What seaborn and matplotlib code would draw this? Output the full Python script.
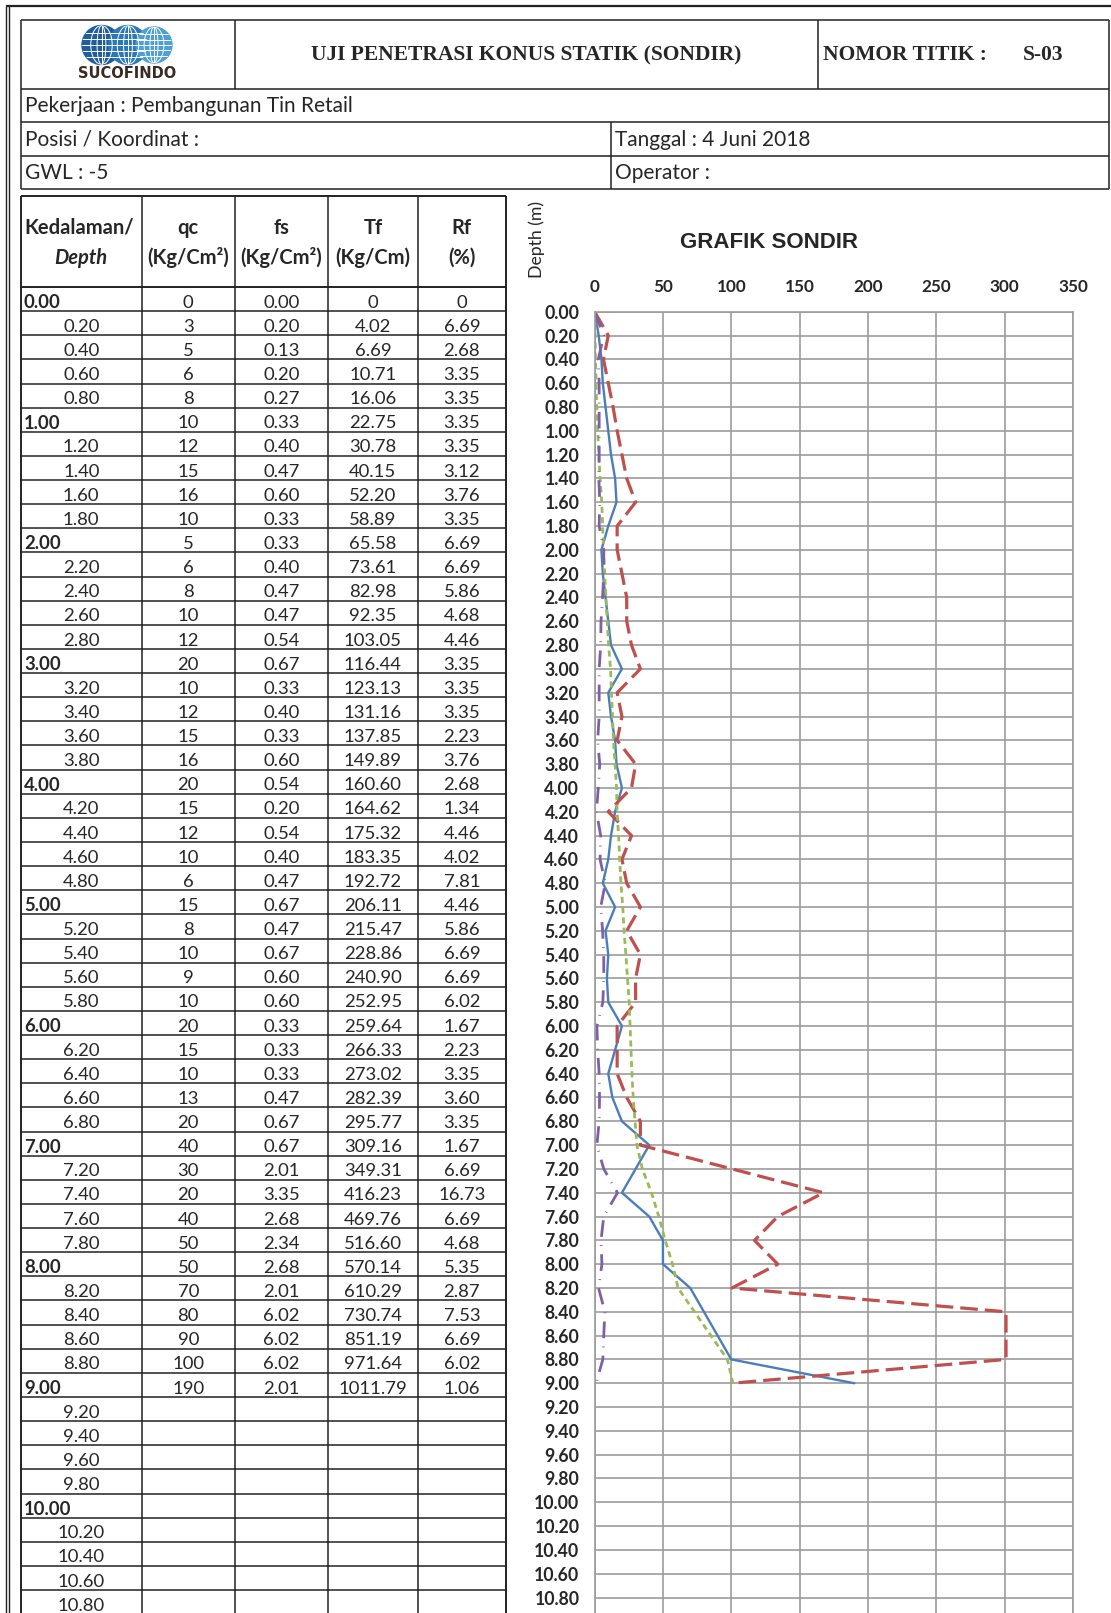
import matplotlib
matplotlib.use("Agg")
import matplotlib.pyplot as plt
from matplotlib.patches import Circle, Ellipse
import numpy as np
import pandas as pd
import seaborn as sns

# ---- data read from the sondir sheet (S-03) ----
depth = [0.00, 0.20, 0.40, 0.60, 0.80, 1.00, 1.20, 1.40, 1.60, 1.80,
         2.00, 2.20, 2.40, 2.60, 2.80, 3.00, 3.20, 3.40, 3.60, 3.80,
         4.00, 4.20, 4.40, 4.60, 4.80, 5.00, 5.20, 5.40, 5.60, 5.80,
         6.00, 6.20, 6.40, 6.60, 6.80, 7.00, 7.20, 7.40, 7.60, 7.80,
         8.00, 8.20, 8.40, 8.60, 8.80, 9.00]
qc = [0, 3, 5, 6, 8, 10, 12, 15, 16, 10,
      5, 6, 8, 10, 12, 20, 10, 12, 15, 16,
      20, 15, 12, 10, 6, 15, 8, 10, 9, 10,
      20, 15, 10, 13, 20, 40, 30, 20, 40, 50,
      50, 70, 80, 90, 100, 190]
fs = [0.00, 0.20, 0.13, 0.20, 0.27, 0.33, 0.40, 0.47, 0.60, 0.33,
      0.33, 0.40, 0.47, 0.47, 0.54, 0.67, 0.33, 0.40, 0.33, 0.60,
      0.54, 0.20, 0.54, 0.40, 0.47, 0.67, 0.47, 0.67, 0.60, 0.60,
      0.33, 0.33, 0.33, 0.47, 0.67, 0.67, 2.01, 3.35, 2.68, 2.34,
      2.68, 2.01, 6.02, 6.02, 6.02, 2.01]
tf = [0, 4.02, 6.69, 10.71, 16.06, 22.75, 30.78, 40.15, 52.20, 58.89,
      65.58, 73.61, 82.98, 92.35, 103.05, 116.44, 123.13, 131.16, 137.85, 149.89,
      160.60, 164.62, 175.32, 183.35, 192.72, 206.11, 215.47, 228.86, 240.90, 252.95,
      259.64, 266.33, 273.02, 282.39, 295.77, 309.16, 349.31, 416.23, 469.76, 516.60,
      570.14, 610.29, 730.74, 851.19, 971.64, 1011.79]
rf = [0, 6.69, 2.68, 3.35, 3.35, 3.35, 3.35, 3.12, 3.76, 3.35,
      6.69, 6.69, 5.86, 4.68, 4.46, 3.35, 3.35, 3.35, 2.23, 3.76,
      2.68, 1.34, 4.46, 4.02, 7.81, 4.46, 5.86, 6.69, 6.69, 6.02,
      1.67, 2.23, 3.35, 3.60, 3.35, 1.67, 6.69, 16.73, 6.69, 4.68,
      5.35, 2.87, 7.53, 6.69, 6.02, 1.06]

# chart scaling used on the sheet: fs x 50, Tf / 10
FS_FACTOR = 50
TF_FACTOR = 0.1

table_depths = np.round(np.arange(0, 10.81, 0.2), 2)
x_ticks = [0, 50, 100, 150, 200, 250, 300, 350]

W, H = 1111, 1613
sns.set_style("white")
plt.rcParams["font.family"] = ["Lato", "DejaVu Sans"]

fig = plt.figure(figsize=(W / 100, H / 100), dpi=100)
bg = fig.add_axes([0, 0, 1, 1])
bg.set_xlim(0, W)
bg.set_ylim(H, 0)
bg.axis("off")

LC = "#222222"


def hline(y, x0, x1, lw=1.1, c=LC):
    bg.plot([x0, x1], [y, y], color=c, lw=lw, solid_capstyle="butt")


def vline(x, y0, y1, lw=1.1, c=LC):
    bg.plot([x, x], [y0, y1], color=c, lw=lw, solid_capstyle="butt")


# outer frame
hline(6, 6, W, lw=1.6)
vline(6, 6, H, lw=1.0)
vline(8.5, 6, H, lw=1.0)

# header block
L, R = 20.5, 1109
hline(19.5, L, R)
hline(88.5, L, R)
hline(122.4, L, R)
hline(156.4, L, R)
hline(189.3, L, R)
vline(L, 19.5, 189.3)
vline(R, 19.5, 189.3)
vline(234.5, 19.5, 88.5)
vline(818, 19.5, 88.5)
vline(611, 122.4, 189.3)

# logo: three globes
gy = 45
globe_cols = ["#1f5d9c", "#2b78b8", "#4d9fd6"]
for cx, r, col in zip([101.5, 128, 154], [19.5, 19.5, 18], globe_cols):
    circ = Circle((cx, gy), r, color=col, zorder=3)
    bg.add_patch(circ)
    for k in [-0.62, -0.3, 0.0, 0.3, 0.62]:
        ln, = bg.plot([cx - r, cx + r], [gy + k * r, gy + k * r],
                      color="white", lw=0.7, zorder=4)
        ln.set_clip_path(circ)
    for wdt in [0.45, 1.1]:
        e = Ellipse((cx, gy), wdt * r, 2 * r, fill=False, ec="white",
                    lw=0.7, zorder=4)
        bg.add_patch(e)
        e.set_clip_path(circ)
    vl, = bg.plot([cx, cx], [gy - r, gy + r], color="white", lw=0.7, zorder=4)
    vl.set_clip_path(circ)
bg.text(127, 74, "SUCOFINDO", ha="center", va="center", fontsize=10.5,
        fontweight="heavy", family=["DejaVu Sans"], color="#3a2a22")

ttl_fs = 15.5
bg.text(526, 55, "UJI PENETRASI KONUS STATIK (SONDIR)", ha="center",
        va="center", fontsize=ttl_fs, fontweight="bold",
        family=["Liberation Serif"])
bg.text(823, 55, "NOMOR TITIK :", ha="left", va="center", fontsize=ttl_fs,
        fontweight="bold", family=["Liberation Serif"])
bg.text(1063, 55, "S-03", ha="right", va="center", fontsize=ttl_fs,
        fontweight="bold", family=["Liberation Serif"])

info_fs = 15
bg.text(25, 106, "Pekerjaan : Pembangunan Tin Retail", va="center", fontsize=info_fs)
bg.text(25, 140, "Posisi / Koordinat :", va="center", fontsize=info_fs)
bg.text(615, 140, "Tanggal : 4 Juni 2018", va="center", fontsize=info_fs)
bg.text(25, 173, "GWL : -5", va="center", fontsize=info_fs)
bg.text(615, 173, "Operator :", va="center", fontsize=info_fs)

# data table
cols_x = [20.5, 142, 234.5, 328, 417.7, 506]
t_top, h_bot, row_h = 195.5, 287, 24.13
hline(t_top, cols_x[0], cols_x[-1], lw=1.4)
for x in cols_x:
    vline(x, t_top, H, lw=1.4 if x in (cols_x[0], cols_x[-1]) else 1.1)
hline(h_bot, cols_x[0], cols_x[-1], lw=1.4)
for i in range(1, len(table_depths) + 1):
    hline(h_bot + i * row_h, cols_x[0], cols_x[-1])

hdr_fs = 14.5
bg.text(24, 228, "Kedalaman/", ha="left", va="center", fontsize=hdr_fs,
        fontweight="bold")
bg.text(81, 258, "Depth", ha="center", va="center", fontsize=hdr_fs,
        fontweight="bold", style="italic")
heads = [("qc", "(Kg/Cm\u00b2)"), ("fs", "(Kg/Cm\u00b2)"), ("Tf", "(Kg/Cm)"), ("Rf", "(%)")]
for j, (a, b) in enumerate(heads):
    cx = (cols_x[j + 1] + cols_x[j + 2]) / 2
    bg.text(cx, 228, a, ha="center", va="center", fontsize=hdr_fs, fontweight="bold")
    bg.text(cx, 258, b, ha="center", va="center", fontsize=hdr_fs, fontweight="bold")

cell_fs = 13.3
centers = [(cols_x[j] + cols_x[j + 1]) / 2 for j in range(5)]
for i, d in enumerate(table_depths):
    y = h_bot + (i + 0.65) * row_h
    whole = abs(d - round(d)) < 1e-6
    if whole:
        bg.text(24, y, f"{d:.2f}", ha="left", va="center", fontsize=cell_fs,
                fontweight="bold")
    else:
        bg.text(centers[0], y, f"{d:.2f}", ha="center", va="center", fontsize=cell_fs)
    if i < len(depth):
        tf_s = "0" if tf[i] == 0 else f"{tf[i]:.2f}"
        rf_s = "0" if rf[i] == 0 else f"{rf[i]:.2f}"
        vals = [f"{qc[i]}", f"{fs[i]:.2f}", tf_s, rf_s]
        for j, s in enumerate(vals):
            bg.text(centers[j + 1], y, s, ha="center", va="center", fontsize=cell_fs)

# ---- chart ----
px_left, px_right, px_top = 594.6, 1073.0, 311.7
px_per_m = 119.06
depth_bottom = (H - px_top) / px_per_m
ax = fig.add_axes([px_left / W, 0, (px_right - px_left) / W, (H - px_top) / H])
ax.set_facecolor("none")

n = len(depth)
df = pd.DataFrame({
    "depth": depth * 4,
    "value": qc + [v * FS_FACTOR for v in fs] + [v * TF_FACTOR for v in tf] + rf,
    "series": ["qc"] * n + ["fs"] * n + ["tf"] * n + ["rf"] * n,
})
palette = {"qc": "#4a7ebb", "fs": "#c0504d", "tf": "#9bbb59", "rf": "#7f5fa8"}
dashes = {"qc": "", "fs": (5.5, 2.2), "tf": (2.2, 1.5), "rf": (6, 3, 0.3, 3)}
sizes = {"qc": 1.7, "fs": 2.3, "tf": 2.0, "rf": 2.0}
sns.lineplot(data=df, x="value", y="depth", hue="series", style="series",
             size="series", sizes=sizes, palette=palette, dashes=dashes,
             sort=False, estimator=None, legend=False, ax=ax)

ax.set_xlim(0, 350)
ax.set_ylim(depth_bottom, 0)
ax.set_xticks(x_ticks)
ax.set_yticks(table_depths)
ax.set_yticklabels([f"{d:.2f}" for d in table_depths])
ax.xaxis.tick_top()
ax.grid(True, color="#9c9c9c", lw=1.2)
ax.set_axisbelow(True)
for side in ["top", "left", "right"]:
    ax.spines[side].set_color("#9c9c9c")
    ax.spines[side].set_linewidth(1.2)
ax.spines["bottom"].set_visible(False)
ax.tick_params(axis="y", length=0, labelsize=12.7, pad=11)
ax.tick_params(axis="x", length=0, labelsize=12.3, pad=12)
for lab in ax.get_xticklabels() + ax.get_yticklabels():
    lab.set_fontweight("bold")
ax.set_xlabel("")
ax.set_ylabel("")

bg.text(537, 240, "Depth (m)", rotation=90, ha="center", va="center", fontsize=12.7)
bg.text(769.5, 242, "GRAFIK SONDIR", ha="center", va="center", fontsize=16,
        fontweight="bold", family=["Liberation Sans"])

fig.savefig("out.png", dpi=100)
